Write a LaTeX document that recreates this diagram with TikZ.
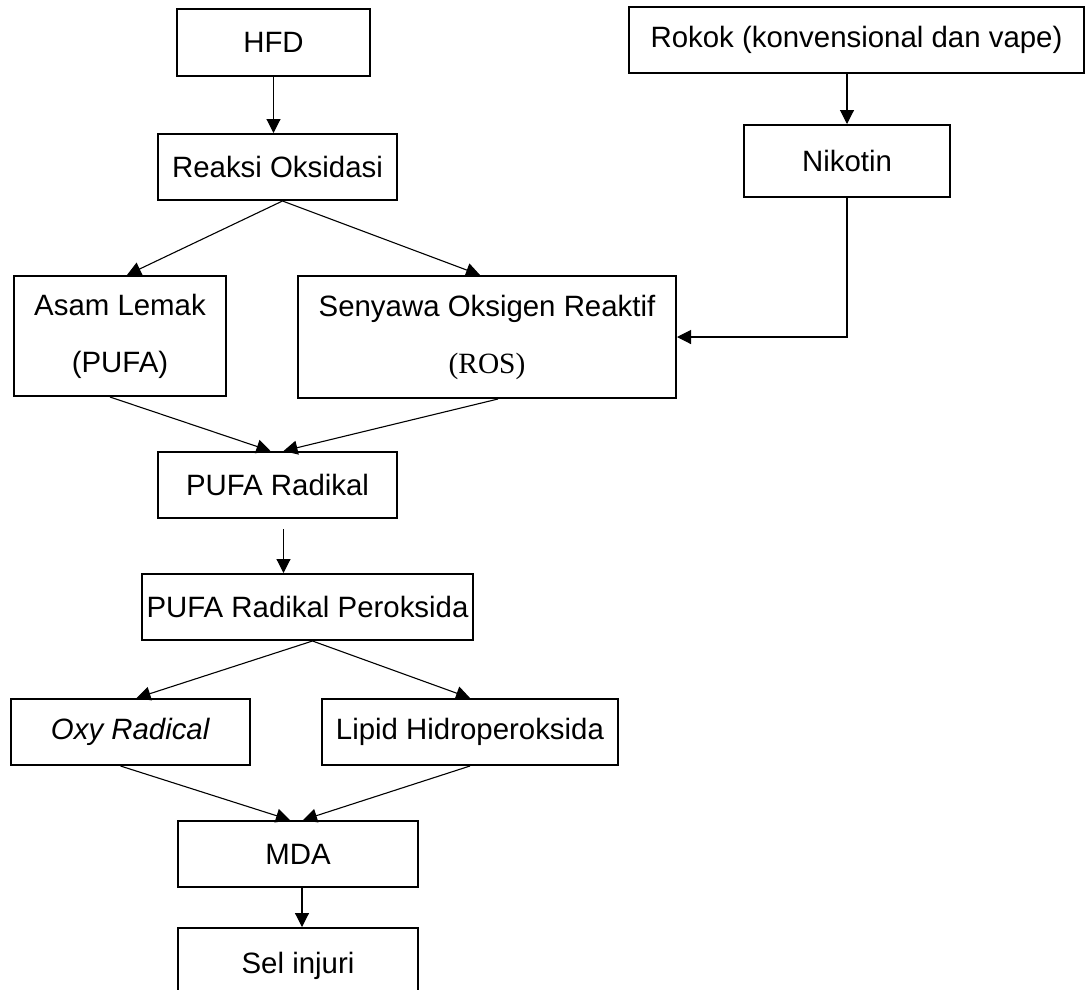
\documentclass[tikz,border=0pt]{standalone}
\usepackage{fontspec}
\setmainfont{Liberation Sans}
\newfontfamily\romanfont{Liberation Serif}
\usetikzlibrary{arrows.meta}

\begin{document}
\begin{tikzpicture}[x=1pt, y=-1pt,
  every node/.style={font=\fontsize{29.4}{35}\selectfont},
  box/.style={draw, line width=2pt, inner sep=0pt, align=center},
  link/.style={line width=1.1pt, -{Triangle[length=14pt,width=14pt]}}]
\useasboundingbox (0,0) rectangle (1088,989);
\clip (0,0) rectangle (1088,989);
% oxidation branch
\node[box, minimum width=193pt, minimum height=67pt] (hfd) at (273.5,42.5) {HFD};
\node[box, minimum width=239pt, minimum height=66pt] (reaksi) at (277.5,167) {Reaksi Oksidasi};
\node[box, minimum width=212pt, minimum height=120pt] (asam) at (120,336) {Asam Lemak\\[22pt](PUFA)};
\node[box, minimum width=378pt, minimum height=122pt] (ros) at (487,337) {Senyawa Oksigen Reaktif\\[22pt]{\romanfont(ROS)}};
% smoking branch
\node[box, minimum width=455pt, minimum height=66pt] (rokok) at (856.5,40) {Rokok (konvensional dan vape)};
\node[box, minimum width=206pt, minimum height=72pt] (nikotin) at (847,161) {Nikotin};
% peroxidation chain
\node[box, minimum width=239pt, minimum height=66pt] (radikal) at (277.5,485) {PUFA Radikal};
\node[box, minimum width=331pt, minimum height=66pt] (peroksida) at (307.5,607) {PUFA Radikal Peroksida};
\node[box, minimum width=239pt, minimum height=66pt] (oxy) at (130.5,732) {\textit{Oxy Radical}};
\node[box, minimum width=296pt, minimum height=66pt] (lipid) at (470,732) {Lipid Hidroperoksida};
\node[box, minimum width=240pt, minimum height=66pt] (mda) at (298,854) {MDA};
% last box runs off the page
\node[box, minimum width=240pt, minimum height=130pt, text depth=0pt] (sel) at (298,993) {\raisebox{60pt}{Sel injuri}};
% arrows
\draw[link] (hfd.south) -- (hfd.south |- reaksi.north);
\draw[link] ([xshift=5pt]reaksi.south) -- ([xshift=7pt]asam.north);
\draw[link] ([xshift=5pt]reaksi.south) -- ([xshift=-7pt]ros.north);
\draw[link] (nikotin.north |- rokok.south) -- (nikotin.north);
\draw[link] (nikotin.south) |- (ros.east);
\draw[link] ([xshift=-10pt]asam.south) -- ([xshift=-7pt]radikal.north);
\draw[link] ([xshift=11pt]ros.south) -- ([xshift=6pt]radikal.north);
\draw[link, shorten <=10pt] ([xshift=6pt]radikal.south) -- ([xshift=6pt]radikal.south |- peroksida.north);
\draw[link] ([xshift=5pt]peroksida.south) -- ([xshift=6pt]oxy.north);
\draw[link] ([xshift=5pt]peroksida.south) -- (lipid.north);
\draw[link] ([xshift=-10pt]oxy.south) -- ([xshift=-8pt]mda.north);
\draw[link] (lipid.south) -- ([xshift=5pt]mda.north);
\draw[link] ([xshift=4pt]mda.south) -- ([xshift=4pt]mda.south |- sel.north);
\end{tikzpicture}
\end{document}
